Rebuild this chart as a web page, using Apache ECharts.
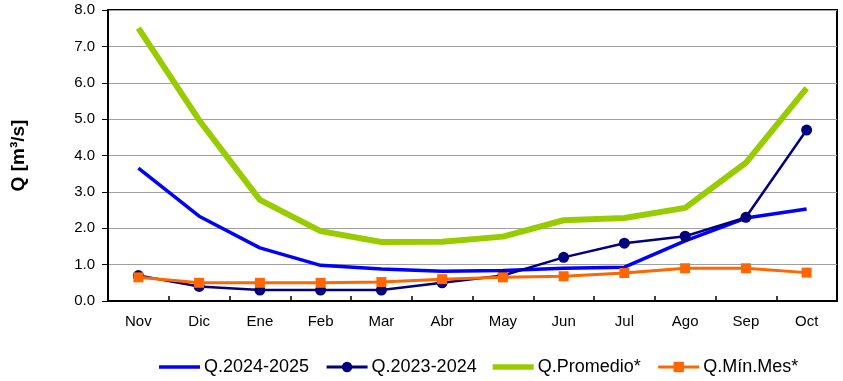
<!DOCTYPE html>
<html>
<head>
<meta charset="utf-8">
<script src="https://cdn.jsdelivr.net/npm/echarts@6/dist/echarts.min.js"></script>
<style>html,body{margin:0;padding:0;background:#fff;}#c{width:843px;height:381px;}</style>
</head>
<body>
<div id="c"></div>
<script>
const months = ['Nov','Dic','Ene','Feb','Mar','Abr','May','Jun','Jul','Ago','Sep','Oct'];
const q2425 = [3.65, 2.33, 1.46, 0.98, 0.88, 0.82, 0.84, 0.90, 0.93, 1.65, 2.28, 2.53];
const q2324 = [0.70, 0.40, 0.30, 0.30, 0.30, 0.50, 0.70, 1.20, 1.59, 1.78, 2.30, 4.70];
const qProm = [7.50, 4.97, 2.78, 1.92, 1.62, 1.63, 1.77, 2.22, 2.28, 2.56, 3.80, 5.85];
const qMin  = [0.65, 0.50, 0.50, 0.50, 0.52, 0.60, 0.65, 0.68, 0.77, 0.90, 0.90, 0.78];
const names = ['Q.2024-2025','Q.2023-2024','Q.Promedio*','Q.Mín.Mes*'];

const chart = echarts.init(document.getElementById('c'));
chart.setOption({
  animation:false,
  textStyle:{fontFamily:'Liberation Sans, Arial'},
  grid:{left:108,right:6,top:10,bottom:80,show:true,borderColor:'#000',borderWidth:2,backgroundColor:'transparent'},
  legend:{bottom:0,left:154,itemWidth:41,itemHeight:13,itemGap:16,
    textStyle:{fontSize:18,color:'#000',fontFamily:'Liberation Sans, Arial',padding:[0,0,0,-1]},
    data:[
      {name:names[0],icon:'path://M0,0L100,0L100,8L0,8Z'},
      {name:names[1],lineStyle:{width:3}},
      {name:names[2],icon:'path://M0,0L100,0L100,14L0,14Z'},
      {name:names[3],lineStyle:{width:3}}
    ]},
  xAxis:{type:'category',data:months,boundaryGap:true,
    axisLine:{show:true,lineStyle:{color:'#000',width:2}},
    axisTick:{show:true,inside:true,length:5,lineStyle:{color:'#000',width:1.5}},
    axisLabel:{fontSize:15,color:'#000',margin:13},
    splitLine:{show:false}},
  yAxis:{type:'value',min:0,max:8,interval:1,
    name:'Q [m³/s]',nameLocation:'middle',nameGap:80,nameRotate:90,
    nameTextStyle:{fontSize:19,fontWeight:'bold',color:'#000'},
    axisLine:{show:true,lineStyle:{color:'#000',width:2}},
    axisTick:{show:true,length:6,lineStyle:{color:'#000'}},
    axisLabel:{fontSize:15,color:'#000',margin:13,formatter:v=>v.toFixed(1)},
    splitLine:{show:true,lineStyle:{color:'#a0a0a0',width:1.2}}},
  series:[
    {name:names[0],type:'line',data:q2425,showSymbol:false,symbol:'none',
      lineStyle:{color:'#0000FF',width:3.5},itemStyle:{color:'#0000FF'},z:3},
    {name:names[1],type:'line',data:q2324,symbol:'circle',symbolSize:11,
      lineStyle:{color:'#000080',width:2.5},itemStyle:{color:'#000080'},z:4},
    {name:names[2],type:'line',data:qProm,symbol:'none',
      lineStyle:{color:'#99CC00',width:6},itemStyle:{color:'#99CC00'},z:2},
    {name:names[3],type:'line',data:qMin,symbol:'rect',symbolSize:10,
      lineStyle:{color:'#FF6600',width:3},itemStyle:{color:'#FF6600'},z:5}
  ]
});
</script>
</body>
</html>
